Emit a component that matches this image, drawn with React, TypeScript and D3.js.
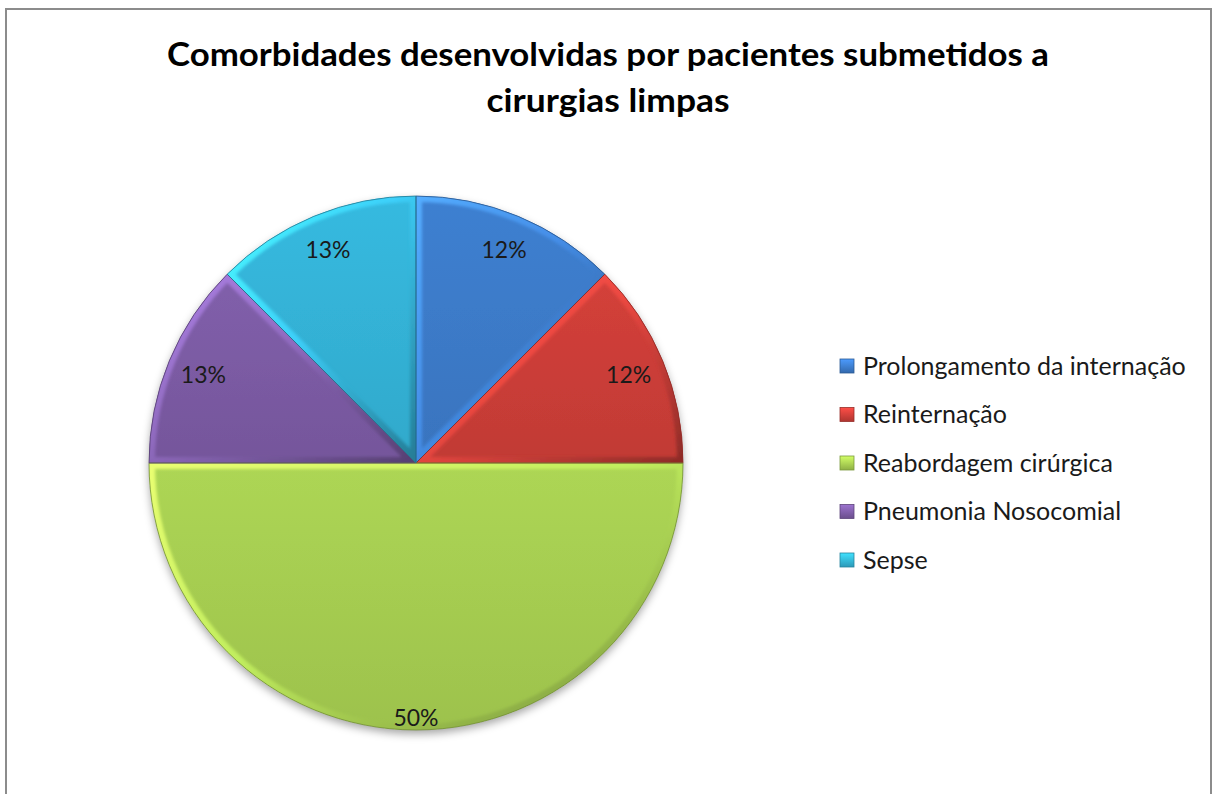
import * as d3 from 'd3';

const categories = [
  'Prolongamento da internação',
  'Reinternação',
  'Reabordagem cirúrgica',
  'Pneumonia Nosocomial',
  'Sepse',
];
const values = [1, 1, 4, 1, 1];
const pctLabels = ['12%', '12%', '50%', '13%', '13%'];
const colors = ['#3b79c6', '#c93d37', '#a4cb50', '#7a5aa2', '#33b0d4'];
const titleLines = ['Comorbidades desenvolvidas por pacientes submetidos a', 'cirurgias limpas'];

const W = 1212;
const H = 794;
const cx = 416;
const cy = 463;
const R = 267;

function App() {
  const pie = d3
    .pie<number>()
    .sort(null)
    .value(d => d);
  const arcs = pie(values);
  const arcGen = d3.arc<d3.PieArcDatum<number>>().innerRadius(0).outerRadius(R);

  const labelPos = (a: d3.PieArcDatum<number>) => {
    const big = a.endAngle - a.startAngle > Math.PI * 0.9;
    const r = big ? R * 0.955 : R * 0.862;
    const mid = (a.startAngle + a.endAngle) / 2;
    return [Math.sin(mid) * r, -Math.cos(mid) * r];
  };

  return (
    <svg width={W} height={H} style={{ display: 'block', position: 'absolute', left: 0, top: 0 }}>
      <defs>
        <filter id="shadow" x="-10%" y="-10%" width="120%" height="125%">
          <feDropShadow dx="0" dy="4" stdDeviation="4" floodColor="#000" floodOpacity="0.35" />
        </filter>
        <filter id="soft" x="-5%" y="-5%" width="110%" height="110%">
          <feGaussianBlur stdDeviation="1.6" />
        </filter>
        {arcs.map((a, i) => {
          const c = d3.color(colors[i])!;
          return (
            <g key={i}>
              <linearGradient id={`fill${i}`} x1="0" y1="0" x2="0" y2="1">
                <stop offset="0%" stopColor={c.brighter(0.15).formatHex()} />
                <stop offset="100%" stopColor={c.darker(0.12).formatHex()} />
              </linearGradient>
              <linearGradient id={`rim${i}`} x1="0" y1="0" x2="1" y2="1">
                <stop offset="0%" stopColor={c.brighter(1).formatHex()} />
                <stop offset="45%" stopColor={c.brighter(0.45).formatHex()} />
                <stop offset="100%" stopColor={c.darker(1).formatHex()} />
              </linearGradient>
              <linearGradient id={`leg${i}`} x1="0" y1="0" x2="0" y2="1">
                <stop offset="0%" stopColor={c.brighter(0.7).formatHex()} />
                <stop offset="100%" stopColor={c.darker(0.4).formatHex()} />
              </linearGradient>
              <clipPath id={`clip${i}`}>
                <path d={arcGen(a)!} />
              </clipPath>
            </g>
          );
        })}
      </defs>

      <rect x={6} y={9} width={1205} height={H + 20} fill="#fff" stroke="#8c8c8c" strokeWidth={2} />

      {titleLines.map((t, i) => (
        <text
          key={i}
          x={608}
          y={66 + i * 46}
          textAnchor="middle"
          fontFamily="Lato, 'Open Sans', sans-serif"
          fontWeight="bold"
          fontSize={33}
          fill="#000"
          textLength={i === 0 ? 882 : 243}
          lengthAdjust="spacingAndGlyphs"
        >
          {t}
        </text>
      ))}

      <g transform={`translate(${cx},${cy})`}>
        <g filter="url(#shadow)">
          {arcs.map((a, i) => (
            <path key={i} d={arcGen(a)!} fill={`url(#fill${i})`} />
          ))}
        </g>
        {arcs.map((a, i) => (
          <g key={i} clipPath={`url(#clip${i})`}>
            <path
              d={arcGen(a)!}
              fill="none"
              stroke={`url(#rim${i})`}
              strokeWidth={12}
              strokeLinejoin="round"
              filter="url(#soft)"
            />
          </g>
        ))}
        {arcs.map((a, i) => (
          <path
            key={i}
            d={arcGen(a)!}
            fill="none"
            stroke={d3.color(colors[i])!.darker(1).formatHex()}
            strokeWidth={1}
            strokeOpacity={0.8}
          />
        ))}
        {arcs.map((a, i) => {
          const [x, y] = labelPos(a);
          return (
            <text
              key={i}
              x={x}
              y={y}
              dy="0.35em"
              textAnchor="middle"
              fontFamily="Lato, 'Open Sans', sans-serif"
              fontSize={23}
              fill="#1a1a1a"
            >
              {pctLabels[i]}
            </text>
          );
        })}
      </g>

      <g transform="translate(840,366)">
        {categories.map((c, i) => {
          const col = d3.color(colors[i])!;
          return (
            <g key={c} transform={`translate(0,${i * 48.5})`}>
              <rect
                x={0}
                y={-7}
                width={14}
                height={14}
                fill={`url(#leg${i})`}
                stroke={col.darker(0.8).formatHex()}
                strokeWidth={0.8}
              />
              <text
                x={23}
                y={0}
                dy="0.35em"
                fontFamily="Lato, 'Open Sans', sans-serif"
                fontSize={25}
                fill="#1a1a1a"
              >
                {c}
              </text>
            </g>
          );
        })}
      </g>
    </svg>
  );
}

export default App;
